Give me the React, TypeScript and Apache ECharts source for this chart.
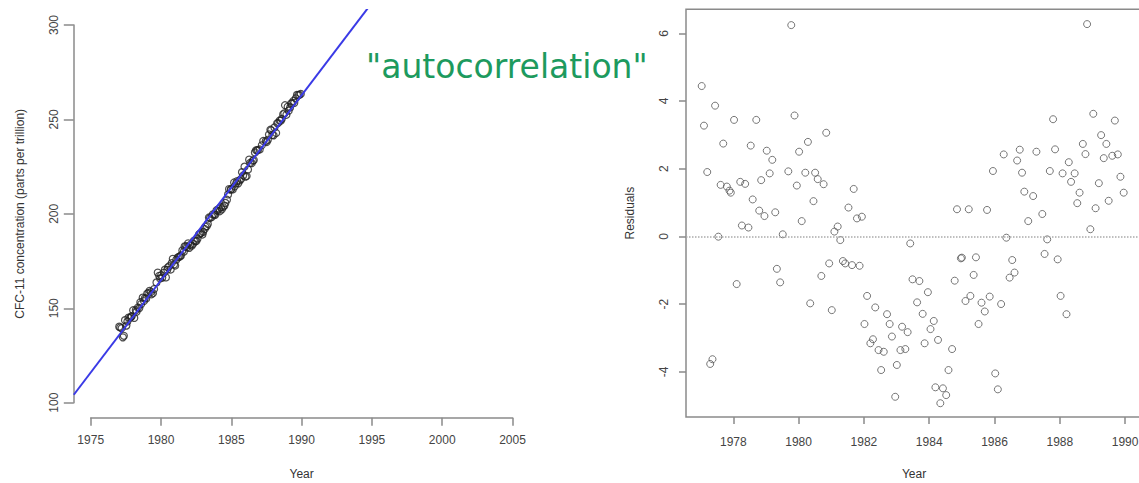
import React, { useEffect, useRef } from "react";
import * as echarts from "echarts";

const years = [
  1977.03, 1977.10, 1977.20, 1977.29, 1977.36, 1977.44, 1977.54, 1977.61, 1977.69, 1977.80,
  1977.88, 1977.92, 1978.02, 1978.10, 1978.21, 1978.26, 1978.36, 1978.46, 1978.53, 1978.59,
  1978.70, 1978.79, 1978.85, 1978.95, 1979.02, 1979.11, 1979.19, 1979.28, 1979.33, 1979.43,
  1979.51, 1979.68, 1979.77, 1979.87, 1979.94, 1980.01, 1980.09, 1980.20, 1980.28, 1980.35,
  1980.45, 1980.50, 1980.58, 1980.69, 1980.76, 1980.84, 1980.93, 1981.01, 1981.09, 1981.19,
  1981.27, 1981.35, 1981.42, 1981.52, 1981.63, 1981.68, 1981.78, 1981.86, 1981.93, 1982.01,
  1982.09, 1982.19, 1982.27, 1982.34, 1982.44, 1982.52, 1982.60, 1982.70, 1982.78, 1982.85,
  1982.95, 1983.00, 1983.11, 1983.16, 1983.26, 1983.33, 1983.41, 1983.48, 1983.62, 1983.69,
  1983.79, 1983.85, 1983.95, 1984.03, 1984.13, 1984.18, 1984.26, 1984.33, 1984.41, 1984.51,
  1984.58, 1984.69, 1984.77, 1984.84, 1984.96, 1984.99, 1985.10, 1985.20, 1985.25, 1985.35,
  1985.42, 1985.50, 1985.59, 1985.69, 1985.76, 1985.84, 1985.94, 1986.01, 1986.09, 1986.19,
  1986.27, 1986.35, 1986.45, 1986.53, 1986.60, 1986.68, 1986.76, 1986.83, 1986.90, 1987.02,
  1987.17, 1987.27, 1987.45, 1987.52, 1987.60, 1987.68, 1987.78, 1987.84, 1987.92, 1988.01,
  1988.07, 1988.19, 1988.26, 1988.33, 1988.44, 1988.52, 1988.59, 1988.69, 1988.77, 1988.82,
  1988.92, 1989.01, 1989.08, 1989.18, 1989.25, 1989.33, 1989.41, 1989.48, 1989.59, 1989.67,
  1989.76, 1989.84, 1989.94,
];

const residuals = [
  4.45, 3.28, 1.91, -3.76, -3.62, 3.87, 0.0, 1.53, 2.75, 1.48,
  1.36, 1.3, 3.45, -1.4, 1.62, 0.33, 1.56, 0.27, 2.69, 1.1,
  3.45, 0.77, 1.67, 0.61, 2.54, 1.87, 2.27, 0.72, -0.95, -1.35,
  0.07, 1.93, 6.25, 3.58, 1.51, 2.51, 0.46, 1.89, 2.8, -1.97,
  1.05, 1.89, 1.7, -1.16, 1.55, 3.07, -0.79, -2.17, 0.15, 0.3,
  -0.1, -0.72, -0.79, 0.86, -0.84, 1.41, 0.54, -0.86, 0.59, -2.58,
  -1.75, -3.15, -3.03, -2.09, -3.35, -3.94, -3.4, -2.29, -2.58, -2.95,
  -4.73, -3.79, -3.35, -2.66, -3.32, -2.82, -0.2, -1.26, -1.94, -1.31,
  -2.28, -3.15, -1.64, -2.73, -2.49, -4.45, -3.05, -4.92, -4.48, -4.68,
  -3.94, -3.32, -1.3, 0.81, -0.64, -0.62, -1.9, 0.81, -1.75, -1.13,
  -0.61, -2.58, -1.95, -2.21, 0.79, -1.77, 1.94, -4.04, -4.51, -1.99,
  2.43, -0.03, -1.21, -0.69, -1.06, 2.25, 2.57, 1.89, 1.33, 0.46,
  1.2, 2.51, 0.67, -0.51, -0.08, 1.94, 3.47, 2.58, -0.67, -1.75,
  1.87, -2.29, 2.2, 1.62, 1.87, 0.99, 1.3, 2.74, 2.44, 6.28,
  0.22, 3.63, 0.84, 1.58, 3.0, 2.32, 2.74, 1.06, 2.39, 3.43,
  2.43, 1.77, 1.3,
];

// Fitted regression line: value at 1980 and slope per year
const FIT_AT_1980 = 164.9;
const FIT_SLOPE = 9.79;
const LINE_YEARS = [1973.8, 2006.2];

const TITLE_TEXT = '"autocorrelation"';

const fit = (y: number) => FIT_AT_1980 + FIT_SLOPE * (y - 1980);

const FONT = "Liberation Sans, Arial, sans-serif";
const AXIS_COLOR = "#8a8a8a";
const LABEL_COLOR = "#444";

export default function App() {
  const ref = useRef<HTMLDivElement>(null);

  useEffect(() => {
    if (!ref.current) return;
    const chart = echarts.init(ref.current, undefined, { renderer: "svg" });

    const cfc = years.map((y, i) => [y, +(fit(y) + residuals[i]).toFixed(2)]);
    const resid = years.map((y, i) => [y, residuals[i]]);
    const line = LINE_YEARS.map((y) => [y, fit(y)]);

    const hidden = { show: false };
    const nameOnly = {
      show: true,
      axisLine: { show: false },
      axisTick: { show: false },
      axisLabel: { show: false },
      splitLine: { show: false },
      nameLocation: "middle" as const,
      nameTextStyle: { color: "#333", fontSize: 12, fontFamily: FONT },
    };
    const axisStyle = (tickLen: number, margin: number, rotate = 0, lineShow = true) => ({
      show: true,
      axisLine: { show: lineShow, onZero: false, lineStyle: { color: AXIS_COLOR, width: 1.5 } },
      axisTick: { show: true, inside: false, length: tickLen, lineStyle: { color: AXIS_COLOR, width: 1.5 } },
      axisLabel: {
        show: true,
        margin,
        rotate,
        color: LABEL_COLOR,
        fontSize: 12,
        fontFamily: FONT,
        formatter: (v: number) => String(v),
      },
      splitLine: { show: false },
    });

    const g = (left: number, top: number, width: number, height: number, extra: any = {}) => ({
      left, top, width, height, containLabel: false, outerBoundsMode: "none", ...extra,
    });

    chart.setOption({
      animation: false,
      backgroundColor: "#ffffff",
      grid: [
        g(73.8, 9.9, 455.6, 407.9),
        g(90.7, 9.9, 421.8, 407.9),
        g(73.8, 25, 455.6, 377.7),
        g(686, 9.2, 456, 407.9, { show: true, borderColor: AXIS_COLOR, borderWidth: 1.5, backgroundColor: "transparent" }),
        g(733.3, 9.2, 391.8, 407.9),
        g(686, 33.3, 456, 338.5),
      ],
      xAxis: [
        { type: "value", gridIndex: 0, min: 1973.8, max: 2006.2, ...nameOnly, name: "Year", nameGap: 50 },
        { type: "value", gridIndex: 1, min: 1975, max: 2005, interval: 5, ...axisStyle(8, 16) },
        { type: "value", gridIndex: 2, min: 1973.8, max: 2006.2, ...hidden },
        { type: "value", gridIndex: 3, min: 1976.55, max: 1990.5, ...nameOnly, name: "Year", nameGap: 51 },
        { type: "value", gridIndex: 4, min: 1978, max: 1990, interval: 2, ...axisStyle(7, 19, 0, false) },
        { type: "value", gridIndex: 5, min: 1976.55, max: 1990.5, ...hidden },
      ],
      yAxis: [
        { type: "value", gridIndex: 0, min: 92, max: 308, ...nameOnly, name: "CFC-11 concentration (parts per trillion)", nameGap: 48 },
        { type: "value", gridIndex: 1, min: 92, max: 308, ...hidden },
        { type: "value", gridIndex: 2, min: 100, max: 300, interval: 50, ...axisStyle(10, 14, 90) },
        { type: "value", gridIndex: 3, min: -5.33, max: 6.72, ...nameOnly, name: "Residuals", nameGap: 50 },
        { type: "value", gridIndex: 4, min: -5.33, max: 6.72, ...hidden },
        { type: "value", gridIndex: 5, min: -4, max: 6, interval: 2, ...axisStyle(7, 16, 90, false) },
      ],
      graphic: [
        {
          type: "text",
          left: 366,
          top: 50,
          style: {
            text: TITLE_TEXT,
            fill: "#1d9a5e",
            font: '33px "DejaVu Sans", sans-serif',
          },
        },
      ],
      series: [
        {
          type: "scatter",
          xAxisIndex: 0,
          yAxisIndex: 0,
          data: cfc,
          symbol: "circle",
          symbolSize: 7,
          itemStyle: { color: "rgba(0,0,0,0)", borderColor: "#222", borderWidth: 1.2 },
        },
        {
          type: "line",
          xAxisIndex: 0,
          yAxisIndex: 0,
          data: line,
          showSymbol: false,
          clip: true,
          lineStyle: { color: "#3a3ae6", width: 2 },
        },
        {
          type: "scatter",
          xAxisIndex: 3,
          yAxisIndex: 3,
          data: resid,
          symbol: "circle",
          symbolSize: 7,
          itemStyle: { color: "rgba(0,0,0,0)", borderColor: "#555", borderWidth: 1 },
          markLine: {
            silent: true,
            symbol: ["none", "none"],
            label: { show: false },
            lineStyle: { type: "dotted", color: "#aaa", width: 1.5 },
            data: [{ yAxis: 0 }],
          },
        },
      ],
    });

    return () => chart.dispose();
  }, []);

  return (
    <div
      ref={ref}
      style={{ position: "fixed", left: 0, top: 0, width: 1139, height: 483, background: "#fff" }}
    />
  );
}
